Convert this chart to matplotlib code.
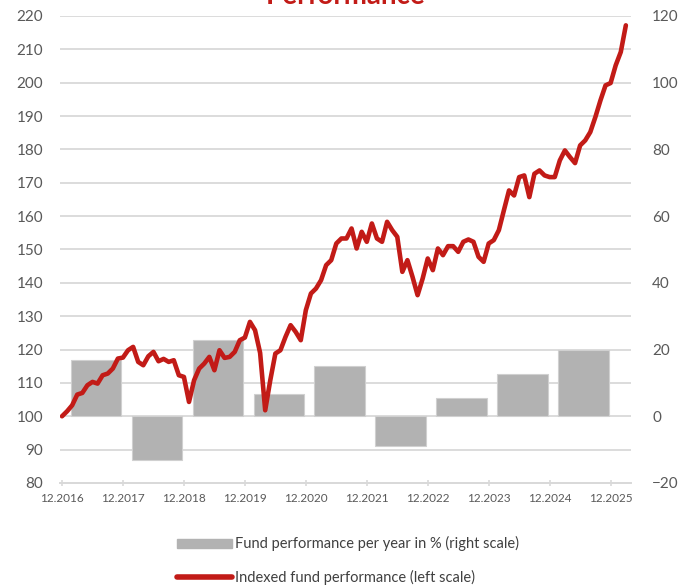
import matplotlib.pyplot as plt
import numpy as np

# monthly indexed fund performance (left scale), starting 12.2016 = 100
index_values = [
    100, 101.5, 103.3, 106.5, 107, 109.3, 110.3, 109.8, 112.3, 112.8,
    114.3, 117.3, 117.6, 119.8, 120.8, 116.3, 115.3, 118, 119.3, 116.5,
    117.2, 116.3, 116.8, 112.3, 111.8, 104.3, 110.8, 114.3, 115.8, 117.8,
    113.8, 119.8, 117.5, 117.8, 119.3, 122.8, 123.6, 128.3, 125.8, 119,
    101.8, 110.8, 118.8, 119.8, 123.8, 127.3, 125.3, 122.8, 131.8, 136.8,
    138.3, 140.8, 145.3, 146.8, 151.8, 153.3, 153.3, 156.3, 150.3, 155.3,
    152.3, 157.8, 153.3, 152.3, 158.3, 155.8, 153.8, 143.3, 146.8, 141.8,
    136.3, 141.3, 147.3, 143.8, 150.3, 148.3, 151, 151, 149.3, 152.3,
    153, 152.3, 147.8, 146.3, 151.8, 152.8, 155.8, 161.8, 167.7, 166.2,
    171.7, 172.2, 165.7, 172.7, 173.7, 172.2, 171.7, 171.7, 176.7, 179.7,
    177.7, 175.9, 181.2, 182.7, 185.2, 189.7, 194.7, 199.2, 199.9, 205.2,
    209.2, 217.2,
]

# yearly performance in % (right scale)
years = [2017, 2018, 2019, 2020, 2021, 2022, 2023, 2024, 2025]
yearly_perf = [17.0, -13.0, 22.8, 6.8, 15.2, -8.8, 5.6, 12.6, 19.8]

tick_labels = ['12.2016', '12.2017', '12.2018', '12.2019', '12.2020',
               '12.2021', '12.2022', '12.2023', '12.2024', '12.2025']

plt.rcParams['font.family'] = ['Lato', 'DejaVu Sans']

red = '#c21b17'
grey_bar = '#b2b2b2'
grid_col = '#d9d9d9'
text_col = '#595959'

fig = plt.figure(figsize=(6.91, 5.88), dpi=100)
ax = fig.add_axes([0.0868, 0.1786, 0.827, 0.7942])
ax2 = ax.twinx()

# bars on the right axis, below the line
bar_centers = (np.arange(len(years)) + 1) * 12 - 5.3
ax2.bar(bar_centers, yearly_perf, width=10, color=grey_bar,
        edgecolor='#d0d0d0', linewidth=0.8, zorder=3)
ax2.set_ylim(-20, 120)
ax2.set_yticks(np.arange(-20, 121, 20))
ax2.set_yticks(np.arange(-20, 121, 10), minor=True)
ax2.grid(which='both', axis='y', color=grid_col, linewidth=1.3, zorder=0)
ax2.set_axisbelow(True)
ax2.tick_params(axis='y', which='both', length=0, pad=15,
                labelsize=11, labelcolor=text_col)

# line on the left axis, drawn on top
ax.set_zorder(ax2.get_zorder() + 1)
ax.patch.set_visible(False)
months = np.arange(len(index_values))
ax.plot(months, index_values, color=red, linewidth=3.3,
        solid_capstyle='round', solid_joinstyle='round', zorder=5)
ax.set_ylim(80, 220)
ax.set_yticks(np.arange(80, 221, 10))
ax.tick_params(axis='y', length=0, pad=12, labelsize=11, labelcolor=text_col)

ax.set_xlim(-0.4, 112.1)
ax.set_xticks(np.arange(len(tick_labels)) * 12)
ax.set_xticklabels(tick_labels)
ax.tick_params(axis='x', direction='inout', length=5, width=1.2,
               color=grid_col, pad=5, labelsize=8.5, labelcolor=text_col)

for a in (ax, ax2):
    for side in ('top', 'left', 'right'):
        a.spines[side].set_visible(False)
    a.spines['bottom'].set_color(grid_col)
    a.spines['bottom'].set_linewidth(1.3)

fig.text(0.5, 1 - 4 / 588, 'Performance', ha='center', va='baseline',
         color=red, fontsize=20, fontweight='bold')

handles = [plt.Rectangle((0, 0), 1, 1, color=grey_bar),
           plt.Line2D([0], [0], color=red, linewidth=4, solid_capstyle='round')]
labels = ['Fund performance per year in % (right scale)',
          'Indexed fund performance (left scale)']
fig.legend(handles, labels, loc='upper left', bbox_to_anchor=(0.256, 0.088),
           frameon=False, fontsize=10.5, labelcolor='#404040',
           handlelength=3.8, handleheight=0.6, handletextpad=0.2,
           labelspacing=1.3, borderaxespad=0, borderpad=0)

plt.savefig('out.png', dpi=100)
